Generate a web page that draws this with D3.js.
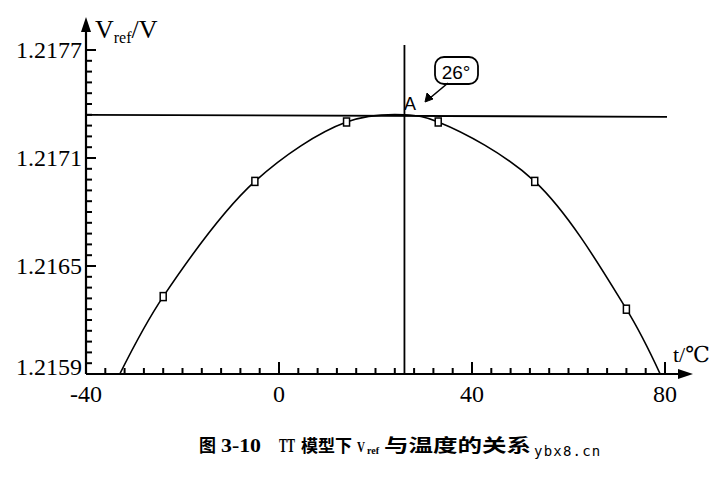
<!DOCTYPE html>
<html><head><meta charset="utf-8">
<script src="https://cdn.jsdelivr.net/npm/d3@7"></script>
<style>body{margin:0;background:#fff}svg{display:block}</style>
</head><body>
<svg id="c" width="720" height="486"></svg>
<script>
// Data
const yTickLabels = [1.2159, 1.2165, 1.2171, 1.2177];
const xTickLabels = [-40, 0, 40, 80];
const curveT = [-33, -24, -5, 14, 26, 33, 53, 72, 79];
const curveV = [1.2159, 1.21633, 1.21697, 1.2173, 1.21734, 1.2173, 1.21697, 1.21626, 1.2159];
const markerT = [-24, -5, 14, 33, 53, 72];
const markerV = [1.21633, 1.21697, 1.2173, 1.2173, 1.21697, 1.21626];
const refLevel = 1.21734;   // horizontal line
const peakT = 26;           // vertical line / point A

const svg = d3.select("#c");
const x = d3.scaleLinear().domain([-40, 80]).range([86, 665]);
const y = d3.scaleLinear().domain([1.2159, 1.2177]).range([374, 50]);
const serif = "'Liberation Serif','DejaVu Serif',serif";
const y0 = y(1.2159), x0 = x(-40);

// axes
svg.append("line").attr("x1", x0).attr("x2", x0).attr("y1", y0).attr("y2", 28)
  .attr("stroke", "#000").attr("stroke-width", 2.2);
svg.append("path").attr("d", `M${x0},17 L${x0 - 5},32 L${x0 + 5},32 Z`).attr("fill", "#000");
svg.append("line").attr("x1", x0).attr("x2", 682).attr("y1", y0).attr("y2", y0)
  .attr("stroke", "#000").attr("stroke-width", 2.2);
svg.append("path").attr("d", `M693,${y0} L678,${y0 - 5} L678,${y0 + 5} Z`).attr("fill", "#000");

// tick marks (drawn after the axes)
const yMinor = d3.range(1, 31).map(i => ({ v: 1.2159 + i * 0.00006, major: i % 10 === 0 }));
const xMinor = d3.range(1, 31).map(i => ({ v: -40 + i * 4, major: i % 10 === 0 }));
const tickColor = "#000";
yMinor.forEach(d => {
  svg.append("line").attr("x1", x0).attr("x2", x0 + (d.major ? 10 : 6))
    .attr("y1", y(d.v)).attr("y2", y(d.v)).attr("stroke", tickColor).attr("stroke-width", 2);
});
xMinor.forEach(d => {
  svg.append("line").attr("x1", x(d.v)).attr("x2", x(d.v))
    .attr("y1", y0).attr("y2", y0 - (d.major ? 12 : 6)).attr("stroke", tickColor).attr("stroke-width", 2);
});

// tick labels
svg.append("g").selectAll("text").data(yTickLabels).join("text")
  .attr("x", 82).attr("y", (d, i) => y(d) - (i === 0 ? 7 : 0)).attr("dy", "0.35em")
  .attr("text-anchor", "end").attr("font-family", serif).attr("font-size", 24)
  .text(d => d3.format(".4f")(d));
svg.append("g").selectAll("text").data(xTickLabels).join("text")
  .attr("x", d => x(d)).attr("y", 402)
  .attr("text-anchor", "middle").attr("font-family", serif).attr("font-size", 24)
  .text(d => d);

// axis titles
const yt = svg.append("text").attr("x", 95).attr("y", 38).attr("font-family", serif).attr("font-size", 26);
yt.append("tspan").text("V");
yt.append("tspan").attr("font-size", 16).attr("dy", 5).text("ref");
yt.append("tspan").attr("dy", -5).text("/V");
svg.append("text").attr("x", 673).attr("y", 362).attr("font-family", serif).attr("font-size", 22).text("t/℃");

// reference lines
svg.append("line").attr("x1", x0).attr("x2", 667).attr("y1", y(refLevel)).attr("y2", y(refLevel) + 2)
  .attr("stroke", "#000").attr("stroke-width", 1.8);
svg.append("line").attr("x1", x(peakT)).attr("x2", x(peakT)).attr("y1", 45).attr("y2", y0)
  .attr("stroke", "#000").attr("stroke-width", 1.8);

// curve
const pts = curveT.map((t, i) => [t, curveV[i]]);
svg.append("path").datum(pts)
  .attr("d", d3.line().x(d => x(d[0])).y(d => y(d[1])).curve(d3.curveCatmullRom.alpha(0.5)))
  .attr("fill", "none").attr("stroke", "#000").attr("stroke-width", 1.6);

// markers
svg.append("g").selectAll("rect").data(markerT.map((t, i) => [t, markerV[i]])).join("rect")
  .attr("x", d => x(d[0]) - 3).attr("y", d => y(d[1]) - 4).attr("width", 6).attr("height", 8)
  .attr("fill", "#fff").attr("stroke", "#000").attr("stroke-width", 1.5);

// annotation
svg.append("text").attr("x", 404).attr("y", 110).attr("font-family", "'Liberation Sans',Arial,sans-serif")
  .attr("font-size", 18).text("A");
svg.append("rect").attr("x", 435).attr("y", 57).attr("width", 43).attr("height", 27).attr("rx", 9)
  .attr("fill", "#fff").attr("stroke", "#000").attr("stroke-width", 1.8);
svg.append("text").attr("x", 456).attr("y", 79).attr("text-anchor", "middle")
  .attr("font-family", "'Liberation Sans',Arial,sans-serif").attr("font-size", 19).text("26°");
svg.append("line").attr("x1", 448).attr("y1", 83).attr("x2", 430).attr("y2", 98)
  .attr("stroke", "#000").attr("stroke-width", 1.6);
svg.append("path").attr("d", "M425,102 L427,93 L433,99 Z").attr("fill", "#000").attr("stroke", "#000").attr("stroke-width", 1);

// caption
const cjk = "'Noto Sans CJK SC',sans-serif";
const capY = 452;
const capParts = [
  { t: "图", x: 199, f: cjk, s: 18, len: 17 },
  { t: "3-10", x: 221, f: serif, s: 18, len: 40 },
  { t: "TT", x: 279, f: serif, s: 18, len: 16 },
  { t: "模型下", x: 301, f: cjk, s: 17, len: 51 },
  { t: "V", x: 357, f: serif, s: 15, len: 8 },
  { t: "与温度的关系", x: 384, f: cjk, s: 18, len: 147 }
];
svg.append("g").selectAll("text").data(capParts).join("text")
  .attr("x", d => d.x).attr("y", capY).attr("font-family", d => d.f).attr("font-weight", 700)
  .attr("font-size", d => d.s).attr("textLength", d => d.len).attr("lengthAdjust", "spacingAndGlyphs")
  .text(d => d.t);
svg.append("text").attr("x", 367).attr("y", capY + 2).attr("font-family", serif).attr("font-weight", 700)
  .attr("font-size", 10).text("ref");
svg.append("text").attr("x", 534).attr("y", 456).attr("font-family", "'DejaVu Sans Mono',monospace")
  .attr("font-size", 14).attr("letter-spacing", 1.2).text("ybx8.cn");
</script>
</body></html>
